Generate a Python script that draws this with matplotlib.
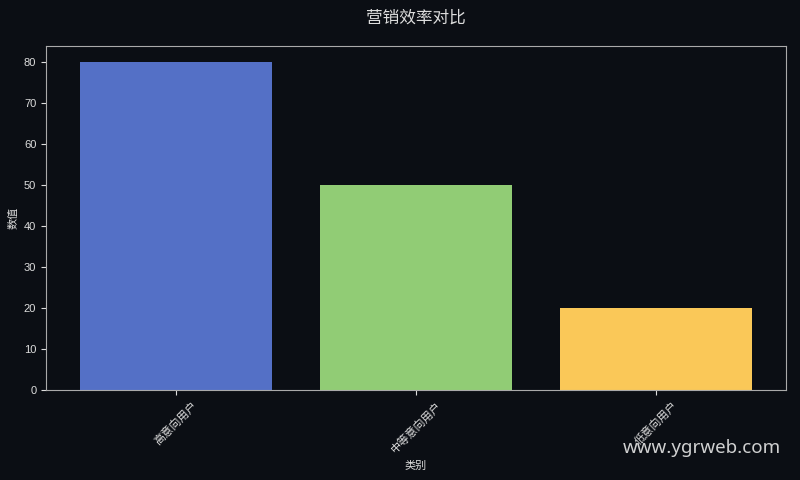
import matplotlib
matplotlib.use("Agg")
import matplotlib.pyplot as plt

plt.rcParams['font.family'] = ['Liberation Sans', 'Noto Sans CJK SC', 'DejaVu Sans']

categories = ['高意向用户', '中等意向用户', '低意向用户']
values = [80, 50, 20]
colors = ['#5470C6', '#91CC75', '#FAC858']

bg = '#0b0e14'
fg = '#dddddd'

fig = plt.figure(figsize=(8, 4.8), dpi=100, facecolor=bg)
ax = fig.add_axes([0.0575, 0.187, 0.925, 0.717])
ax.set_facecolor(bg)
ax.bar(categories, values, color=colors, width=0.8)
fig.text(0.0575 + 0.925 / 2, 1 - 18 / 480, '营销效率对比', color=fg, fontsize=12, ha='center', va='center',
         family=['Noto Sans CJK SC', 'DejaVu Sans'])
ax.set_xlabel('类别', color=fg, fontsize=8, labelpad=4)
ax.set_ylabel('数值', color=fg, fontsize=8, labelpad=4)
ax.tick_params(colors=fg, labelsize=8)
for lab in ax.get_xticklabels():
    lab.set_rotation(45)
    lab.set_ha('center')
for s in ax.spines.values():
    s.set_color('#aaaaaa')
ax.set_ylim(0, 84)
fig.text(0.976, 1 - 448 / 480, 'www.ygrweb.com', color='#e6e6e6', fontsize=13.5, ha='right', va='center',
         alpha=0.9, family=['Noto Sans', 'DejaVu Sans'])
fig.savefig('out.png', facecolor=bg)
